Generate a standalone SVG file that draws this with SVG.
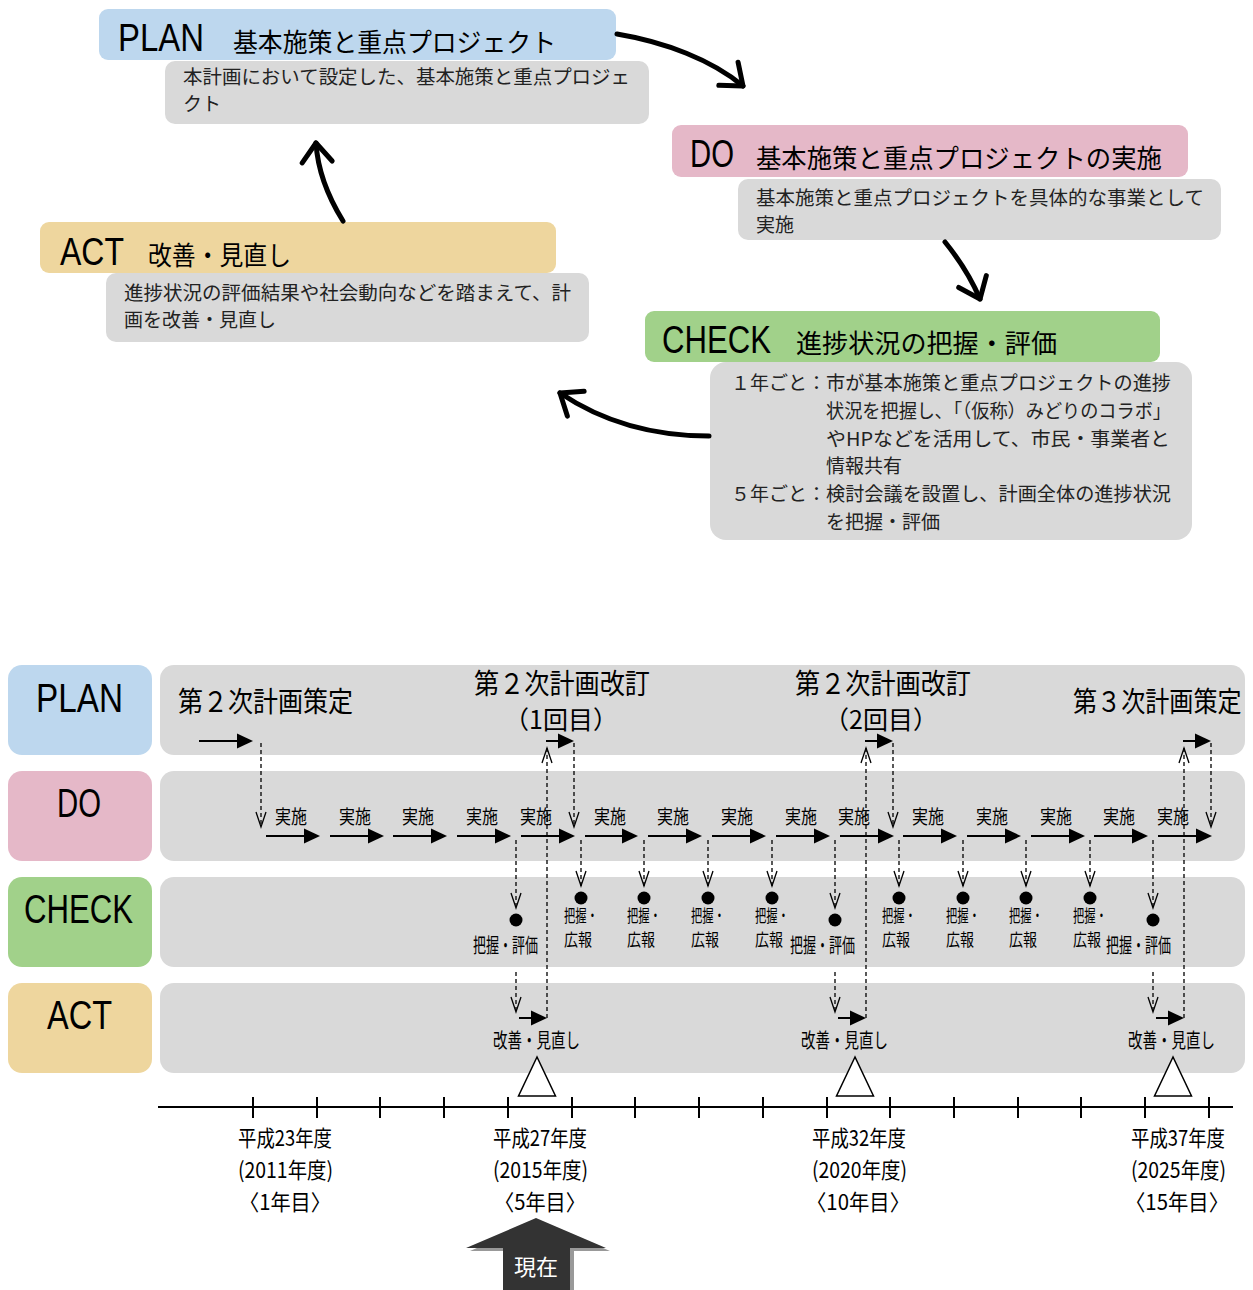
<svg xmlns="http://www.w3.org/2000/svg" width="1253" height="1290" viewBox="0 0 1253 1290">
<style>
.lat{font-family:"Liberation Sans","DejaVu Sans",sans-serif;fill:#000}
.jp{font-family:"Noto Sans CJK JP","Noto Sans",sans-serif;fill:#000}
.sm{font-size:19px;fill:#222}
.gray{fill:#d9d9d9}
.plan{fill:#bdd7ee}.do{fill:#e5b8c8}.check{fill:#a1d18a}.act{fill:#eed69e}
.big{stroke:#000;stroke-width:5;fill:none;stroke-linecap:round}
.sol{stroke:#000;stroke-width:2;fill:none}
.dash{stroke:#000;stroke-width:1.3;stroke-dasharray:4 3;fill:none}
.t1{font-size:19px}
.t2{font-size:20px}
.t3{font-size:17px}
.ax{font-size:22px}
</style>
<defs>
<marker id="cv" markerUnits="userSpaceOnUse" orient="auto" overflow="visible" markerWidth="1" markerHeight="1">
<path d="M-19,-15 L0,0 L-19,15" fill="none" stroke="#000" stroke-width="5" stroke-linecap="round" stroke-linejoin="round"/>
</marker>
<marker id="fa" markerUnits="userSpaceOnUse" orient="auto" overflow="visible" markerWidth="1" markerHeight="1">
<path d="M-6,-7.5 L10,0 L-6,7.5 Z" fill="#000"/>
</marker>
<marker id="ov" markerUnits="userSpaceOnUse" orient="auto" overflow="visible" markerWidth="1" markerHeight="1">
<path d="M-15,-5 L0,0 L-15,5" fill="none" stroke="#000" stroke-width="1.3" stroke-dasharray="none"/>
</marker>
</defs>
<rect width="1253" height="1290" fill="#fff"/>

<!-- Top PDCA cycle -->
<g id="top-plan">
<rect class="plan" x="99" y="9" width="517" height="51" rx="9"/>
<text class="lat" x="118" y="51" font-size="39" textLength="86" lengthAdjust="spacingAndGlyphs">PLAN</text>
<text class="jp" x="233" y="52" font-size="26" textLength="323" lengthAdjust="spacingAndGlyphs">基本施策と重点プロジェクト</text>
<rect class="gray" x="165" y="61" width="484" height="63" rx="10"/>
<text class="jp sm" x="183" y="84" textLength="447" lengthAdjust="spacingAndGlyphs">本計画において設定した、基本施策と重点プロジェ</text>
<text class="jp sm" x="183" y="111">クト</text>
</g>
<g id="top-do">
<rect class="do" x="672" y="125" width="516" height="52" rx="9"/>
<text class="lat" x="690" y="167" font-size="39" textLength="44" lengthAdjust="spacingAndGlyphs">DO</text>
<text class="jp" x="756" y="168" font-size="26" textLength="406" lengthAdjust="spacingAndGlyphs">基本施策と重点プロジェクトの実施</text>
<rect class="gray" x="738" y="179" width="483" height="61" rx="10"/>
<text class="jp sm" x="756" y="205" textLength="448" lengthAdjust="spacingAndGlyphs">基本施策と重点プロジェクトを具体的な事業として</text>
<text class="jp sm" x="756" y="232">実施</text>
</g>
<g id="top-act">
<rect class="act" x="40" y="222" width="516" height="51" rx="9"/>
<text class="lat" x="60" y="265" font-size="39" textLength="64" lengthAdjust="spacingAndGlyphs">ACT</text>
<text class="jp" x="148" y="265" font-size="26" textLength="143" lengthAdjust="spacingAndGlyphs">改善・見直し</text>
<rect class="gray" x="106" y="273" width="483" height="69" rx="10"/>
<text class="jp sm" x="124" y="300" textLength="447" lengthAdjust="spacingAndGlyphs">進捗状況の評価結果や社会動向などを踏まえて、計</text>
<text class="jp sm" x="124" y="327">画を改善・見直し</text>
</g>
<g id="top-check">
<rect class="check" x="645" y="311" width="515" height="51" rx="9"/>
<text class="lat" x="662" y="353" font-size="39" textLength="109" lengthAdjust="spacingAndGlyphs">CHECK</text>
<text class="jp" x="796" y="353" font-size="26" textLength="261" lengthAdjust="spacingAndGlyphs">進捗状況の把握・評価</text>
<rect class="gray" x="710" y="362" width="482" height="178" rx="16"/>
<text class="jp sm" x="731" y="390">１年ごと：</text>
<text class="jp sm" x="826" y="390" textLength="345" lengthAdjust="spacingAndGlyphs">市が基本施策と重点プロジェクトの進捗</text>
<text class="jp sm" x="826" y="418" textLength="345" lengthAdjust="spacingAndGlyphs">状況を把握し､「（仮称）みどりのコラボ」</text>
<text class="jp sm" x="826" y="446" textLength="344" lengthAdjust="spacingAndGlyphs">やHPなどを活用して、市民・事業者と</text>
<text class="jp sm" x="826" y="473">情報共有</text>
<text class="jp sm" x="731" y="501">５年ごと：</text>
<text class="jp sm" x="826" y="501" textLength="345" lengthAdjust="spacingAndGlyphs">検討会議を設置し、計画全体の進捗状況</text>
<text class="jp sm" x="826" y="529">を把握・評価</text>
</g>
<g id="cycle-connectors">
<path class="big" d="M617,34 C665,42 712,60 743,86" marker-end="url(#cv)"/>
<path class="big" d="M945,242 C958,258 971,278 980,299" marker-end="url(#cv)"/>
<path class="big" d="M709,436 C650,436 600,420 560,393" marker-end="url(#cv)"/>
<path class="big" d="M343,221 C330,200 318,175 316,143" marker-end="url(#cv)"/>
</g>

<!-- Timeline rows -->
<g id="row-plan">
<rect class="plan" x="8" y="665" width="144" height="90" rx="14"/>
<rect class="gray" x="160" y="665" width="1085" height="90" rx="14"/>
<text class="lat" x="36" y="712" font-size="41" textLength="87" lengthAdjust="spacingAndGlyphs">PLAN</text>
<text class="jp" x="178" y="712" font-size="28" textLength="175" lengthAdjust="spacingAndGlyphs">第２次計画策定</text>
<text class="jp" x="474" y="694" font-size="28" textLength="176" lengthAdjust="spacingAndGlyphs">第２次計画改訂</text>
<text class="jp" x="561" y="729" font-size="25" text-anchor="middle">（1回目）</text>
<text class="jp" x="795" y="694" font-size="28" textLength="176" lengthAdjust="spacingAndGlyphs">第２次計画改訂</text>
<text class="jp" x="881" y="729" font-size="25" text-anchor="middle">（2回目）</text>
<text class="jp" transform="translate(1073,712) scale(0.86,1)" font-size="28">第３次計画策定</text>
</g>
<g id="row-do">
<rect class="do" x="8" y="771" width="144" height="90" rx="14"/>
<rect class="gray" x="160" y="771" width="1085" height="90" rx="14"/>
<text class="lat" x="57" y="817" font-size="41" textLength="44" lengthAdjust="spacingAndGlyphs">DO</text>
<g class="jp t1">
<text x="275" y="824" textLength="32" lengthAdjust="spacingAndGlyphs">実施</text>
<text x="339" y="824" textLength="32" lengthAdjust="spacingAndGlyphs">実施</text>
<text x="402" y="824" textLength="32" lengthAdjust="spacingAndGlyphs">実施</text>
<text x="466" y="824" textLength="32" lengthAdjust="spacingAndGlyphs">実施</text>
<text x="520" y="824" textLength="32" lengthAdjust="spacingAndGlyphs">実施</text>
<text x="594" y="824" textLength="32" lengthAdjust="spacingAndGlyphs">実施</text>
<text x="657" y="824" textLength="32" lengthAdjust="spacingAndGlyphs">実施</text>
<text x="721" y="824" textLength="32" lengthAdjust="spacingAndGlyphs">実施</text>
<text x="785" y="824" textLength="32" lengthAdjust="spacingAndGlyphs">実施</text>
<text x="838" y="824" textLength="32" lengthAdjust="spacingAndGlyphs">実施</text>
<text x="912" y="824" textLength="32" lengthAdjust="spacingAndGlyphs">実施</text>
<text x="976" y="824" textLength="32" lengthAdjust="spacingAndGlyphs">実施</text>
<text x="1040" y="824" textLength="32" lengthAdjust="spacingAndGlyphs">実施</text>
<text x="1103" y="824" textLength="32" lengthAdjust="spacingAndGlyphs">実施</text>
<text x="1157" y="824" textLength="32" lengthAdjust="spacingAndGlyphs">実施</text>
</g>
</g>
<g id="row-check">
<rect class="check" x="8" y="877" width="144" height="90" rx="14"/>
<rect class="gray" x="160" y="877" width="1085" height="90" rx="14"/>
<text class="lat" x="24" y="923" font-size="41" textLength="109" lengthAdjust="spacingAndGlyphs">CHECK</text>
<g fill="#000">
<circle cx="516" cy="920" r="6.5"/><circle cx="581" cy="898" r="6.5"/><circle cx="644" cy="898" r="6.5"/>
<circle cx="708" cy="898" r="6.5"/><circle cx="772" cy="898" r="6.5"/><circle cx="835" cy="920" r="6.5"/>
<circle cx="899" cy="898" r="6.5"/><circle cx="963" cy="898" r="6.5"/><circle cx="1026" cy="898" r="6.5"/>
<circle cx="1090" cy="898" r="6.5"/><circle cx="1153" cy="920" r="6.5"/>
</g>
<g class="jp t2">
<text transform="translate(473,953) scale(0.65,1)">把握・評価</text>
<text transform="translate(790,953) scale(0.65,1)">把握・評価</text>
<text transform="translate(1106,953) scale(0.65,1)">把握・評価</text>
</g>
<g class="jp t3">
<text x="564" y="922" textLength="34" lengthAdjust="spacingAndGlyphs">把握・</text><text x="564" y="946" textLength="28" lengthAdjust="spacingAndGlyphs">広報</text>
<text x="627" y="922" textLength="34" lengthAdjust="spacingAndGlyphs">把握・</text><text x="627" y="946" textLength="28" lengthAdjust="spacingAndGlyphs">広報</text>
<text x="691" y="922" textLength="34" lengthAdjust="spacingAndGlyphs">把握・</text><text x="691" y="946" textLength="28" lengthAdjust="spacingAndGlyphs">広報</text>
<text x="755" y="922" textLength="34" lengthAdjust="spacingAndGlyphs">把握・</text><text x="755" y="946" textLength="28" lengthAdjust="spacingAndGlyphs">広報</text>
<text x="882" y="922" textLength="34" lengthAdjust="spacingAndGlyphs">把握・</text><text x="882" y="946" textLength="28" lengthAdjust="spacingAndGlyphs">広報</text>
<text x="946" y="922" textLength="34" lengthAdjust="spacingAndGlyphs">把握・</text><text x="946" y="946" textLength="28" lengthAdjust="spacingAndGlyphs">広報</text>
<text x="1009" y="922" textLength="34" lengthAdjust="spacingAndGlyphs">把握・</text><text x="1009" y="946" textLength="28" lengthAdjust="spacingAndGlyphs">広報</text>
<text x="1073" y="922" textLength="34" lengthAdjust="spacingAndGlyphs">把握・</text><text x="1073" y="946" textLength="28" lengthAdjust="spacingAndGlyphs">広報</text>
</g>
</g>
<g id="row-act">
<rect class="act" x="8" y="983" width="144" height="90" rx="14"/>
<rect class="gray" x="160" y="983" width="1085" height="90" rx="14"/>
<text class="lat" x="47" y="1029" font-size="41" textLength="65" lengthAdjust="spacingAndGlyphs">ACT</text>
<g class="jp t2">
<text x="493" y="1048" textLength="87" lengthAdjust="spacingAndGlyphs">改善・見直し</text>
<text x="801" y="1048" textLength="87" lengthAdjust="spacingAndGlyphs">改善・見直し</text>
<text x="1128" y="1048" textLength="87" lengthAdjust="spacingAndGlyphs">改善・見直し</text>
</g>
</g>

<g id="timeline-connectors">
<line class="sol" x1="199" y1="741" x2="243" y2="741" marker-end="url(#fa)"/>
<line class="dash" x1="261" y1="743" x2="261" y2="827" marker-end="url(#ov)"/>
<line class="sol" x1="266" y1="836" x2="310" y2="836" marker-end="url(#fa)"/>
<line class="sol" x1="330" y1="836" x2="374" y2="836" marker-end="url(#fa)"/>
<line class="sol" x1="393" y1="836" x2="437" y2="836" marker-end="url(#fa)"/>
<line class="sol" x1="457" y1="836" x2="501" y2="836" marker-end="url(#fa)"/>
<line class="sol" x1="521" y1="836" x2="565" y2="836" marker-end="url(#fa)"/>
<line class="sol" x1="585" y1="836" x2="628" y2="836" marker-end="url(#fa)"/>
<line class="sol" x1="648" y1="836" x2="692" y2="836" marker-end="url(#fa)"/>
<line class="sol" x1="712" y1="836" x2="756" y2="836" marker-end="url(#fa)"/>
<line class="sol" x1="776" y1="836" x2="820" y2="836" marker-end="url(#fa)"/>
<line class="sol" x1="840" y1="836" x2="884" y2="836" marker-end="url(#fa)"/>
<line class="sol" x1="903" y1="836" x2="947" y2="836" marker-end="url(#fa)"/>
<line class="sol" x1="967" y1="836" x2="1011" y2="836" marker-end="url(#fa)"/>
<line class="sol" x1="1031" y1="836" x2="1075" y2="836" marker-end="url(#fa)"/>
<line class="sol" x1="1094" y1="836" x2="1138" y2="836" marker-end="url(#fa)"/>
<line class="sol" x1="1158" y1="836" x2="1202" y2="836" marker-end="url(#fa)"/>
<line class="dash" x1="581" y1="840" x2="581" y2="886" marker-end="url(#ov)"/>
<line class="dash" x1="644" y1="840" x2="644" y2="886" marker-end="url(#ov)"/>
<line class="dash" x1="708" y1="840" x2="708" y2="886" marker-end="url(#ov)"/>
<line class="dash" x1="772" y1="840" x2="772" y2="886" marker-end="url(#ov)"/>
<line class="dash" x1="899" y1="840" x2="899" y2="886" marker-end="url(#ov)"/>
<line class="dash" x1="963" y1="840" x2="963" y2="886" marker-end="url(#ov)"/>
<line class="dash" x1="1026" y1="840" x2="1026" y2="886" marker-end="url(#ov)"/>
<line class="dash" x1="1090" y1="840" x2="1090" y2="886" marker-end="url(#ov)"/>
<!-- revision 1 -->
<line class="dash" x1="516" y1="840" x2="516" y2="908" marker-end="url(#ov)"/>
<line class="dash" x1="516" y1="972" x2="516" y2="1012" marker-end="url(#ov)"/>
<line class="sol" x1="519" y1="1018" x2="537" y2="1018" marker-end="url(#fa)"/>
<line class="dash" x1="547" y1="1018" x2="547" y2="748" marker-end="url(#ov)"/>
<line class="sol" x1="546" y1="741" x2="564" y2="741" marker-end="url(#fa)"/>
<line class="dash" x1="574" y1="743" x2="574" y2="827" marker-end="url(#ov)"/>
<!-- revision 2 -->
<line class="dash" x1="835" y1="840" x2="835" y2="908" marker-end="url(#ov)"/>
<line class="dash" x1="835" y1="972" x2="835" y2="1012" marker-end="url(#ov)"/>
<line class="sol" x1="838" y1="1018" x2="856" y2="1018" marker-end="url(#fa)"/>
<line class="dash" x1="866" y1="1018" x2="866" y2="748" marker-end="url(#ov)"/>
<line class="sol" x1="865" y1="741" x2="883" y2="741" marker-end="url(#fa)"/>
<line class="dash" x1="893" y1="743" x2="893" y2="827" marker-end="url(#ov)"/>
<!-- third plan -->
<line class="dash" x1="1153" y1="840" x2="1153" y2="908" marker-end="url(#ov)"/>
<line class="dash" x1="1153" y1="972" x2="1153" y2="1012" marker-end="url(#ov)"/>
<line class="sol" x1="1156" y1="1018" x2="1174" y2="1018" marker-end="url(#fa)"/>
<line class="dash" x1="1184" y1="1018" x2="1184" y2="748" marker-end="url(#ov)"/>
<line class="sol" x1="1183" y1="741" x2="1201" y2="741" marker-end="url(#fa)"/>
<line class="dash" x1="1211" y1="743" x2="1211" y2="827" marker-end="url(#ov)"/>
</g>

<g id="axis">
<g fill="#fff" stroke="#000" stroke-width="1.5">
<polygon points="537,1057 518.5,1096 555.5,1096"/>
<polygon points="855,1057 836.5,1096 873.5,1096"/>
<polygon points="1173,1057 1154.5,1096 1191.5,1096"/>
</g>
<g stroke="#000" stroke-width="2">
<line x1="158" y1="1107" x2="1233" y2="1107"/>
<line x1="253" y1="1097" x2="253" y2="1118"/><line x1="317" y1="1097" x2="317" y2="1118"/>
<line x1="380" y1="1097" x2="380" y2="1118"/><line x1="444" y1="1097" x2="444" y2="1118"/>
<line x1="508" y1="1097" x2="508" y2="1118"/><line x1="572" y1="1097" x2="572" y2="1118"/>
<line x1="635" y1="1097" x2="635" y2="1118"/><line x1="699" y1="1097" x2="699" y2="1118"/>
<line x1="763" y1="1097" x2="763" y2="1118"/><line x1="827" y1="1097" x2="827" y2="1118"/>
<line x1="890" y1="1097" x2="890" y2="1118"/><line x1="954" y1="1097" x2="954" y2="1118"/>
<line x1="1018" y1="1097" x2="1018" y2="1118"/><line x1="1081" y1="1097" x2="1081" y2="1118"/>
<line x1="1145" y1="1097" x2="1145" y2="1118"/><line x1="1209" y1="1097" x2="1209" y2="1118"/>
</g>
<g class="jp ax">
<text x="238" y="1146" textLength="94" lengthAdjust="spacingAndGlyphs">平成23年度</text>
<text x="238" y="1178" textLength="95" lengthAdjust="spacingAndGlyphs">(2011年度)</text>
<text x="239" y="1210" textLength="92" lengthAdjust="spacingAndGlyphs">〈1年目〉</text>
<text x="493" y="1146" textLength="94" lengthAdjust="spacingAndGlyphs">平成27年度</text>
<text x="493" y="1178" textLength="95" lengthAdjust="spacingAndGlyphs">(2015年度)</text>
<text x="494" y="1210" textLength="92" lengthAdjust="spacingAndGlyphs">〈5年目〉</text>
<text x="812" y="1146" textLength="94" lengthAdjust="spacingAndGlyphs">平成32年度</text>
<text x="812" y="1178" textLength="95" lengthAdjust="spacingAndGlyphs">(2020年度)</text>
<text x="806" y="1210" textLength="104" lengthAdjust="spacingAndGlyphs">〈10年目〉</text>
<text x="1131" y="1146" textLength="94" lengthAdjust="spacingAndGlyphs">平成37年度</text>
<text x="1131" y="1178" textLength="95" lengthAdjust="spacingAndGlyphs">(2025年度)</text>
<text x="1125" y="1210" textLength="104" lengthAdjust="spacingAndGlyphs">〈15年目〉</text>
</g>
</g>

<g id="now-marker">
<polygon points="540,1221 610,1251 574,1251 574,1293 507,1293 507,1251 470,1251" fill="#999"/>
<polygon points="536,1218 606,1248 570,1248 570,1290 503,1290 503,1248 466,1248" fill="#333"/>
<text class="jp" x="536" y="1275" font-size="22" text-anchor="middle" style="fill:#fff">現在</text>
</g>
</svg>
